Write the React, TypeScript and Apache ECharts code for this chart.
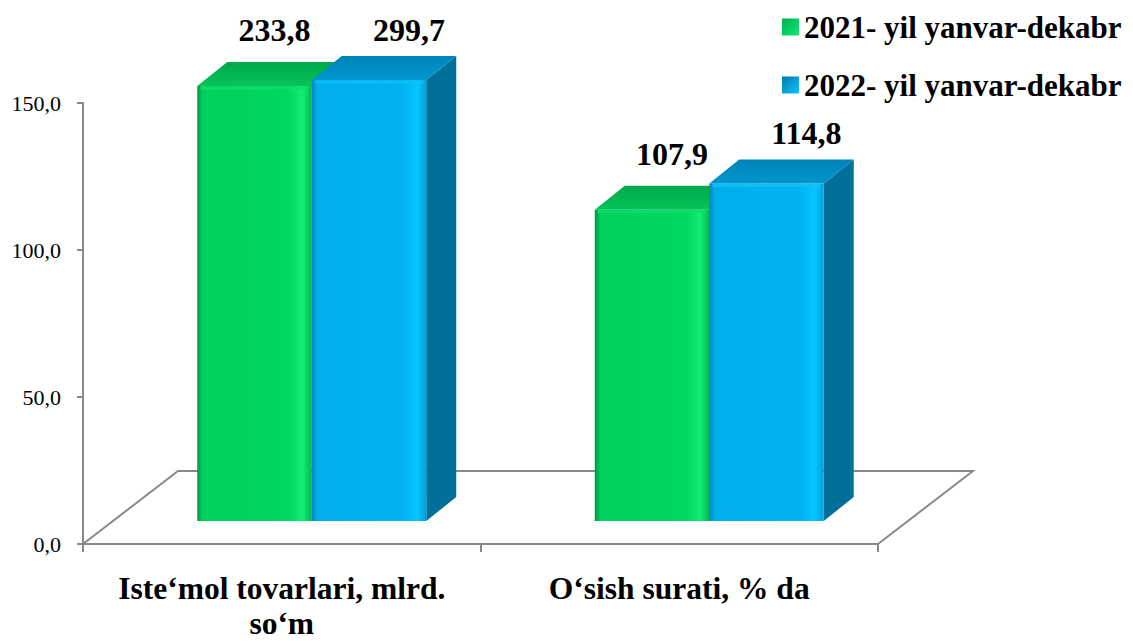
import React, { useEffect, useRef } from "react";
import * as echarts from "echarts";

const categories = ["Iste‘mol tovarlari, mlrd.\nso‘m", "O‘sish surati, % da"];
const seriesNames = ["2021- yil yanvar-dekabr", "2022- yil yanvar-dekabr"];
const values2021 = [233.8, 107.9];
const values2022 = [299.7, 114.8];
const yTicks = { min: 0, max: 150, interval: 50 };

const FONT = "Liberation Serif, Times New Roman, serif";
const AXIS_COLOR = "#898989";
const BAR_DX = 30; // front plane of bars, relative to the front of the floor
const BAR_DY = 23;
const DEPTH_DX = 30; // depth of a bar
const DEPTH_DY = 24;
const FLOOR_DX = 95;
const FLOOR_DY = 73;

const palettes = [
  {
    front: new echarts.graphic.LinearGradient(0, 0, 1, 0, [
      { offset: 0, color: "#009844" },
      { offset: 0.05, color: "#00D05C" },
      { offset: 0.8, color: "#00D860" },
      { offset: 0.92, color: "#14EC74" },
      { offset: 1, color: "#00B852" },
    ]),
    top: new echarts.graphic.LinearGradient(0, 1, 0, 0, [
      { offset: 0, color: "#06C45A" },
      { offset: 1, color: "#00A84A" },
    ]),
    side: "#008A40",
    bevel: "#0CE06A",
    labelDx: 20,
    topShift: 6,
    legend: new echarts.graphic.LinearGradient(0, 0, 1, 1, [
      { offset: 0, color: "#00B050" },
      { offset: 1, color: "#10E870" },
    ]),
  },
  {
    front: new echarts.graphic.LinearGradient(0, 0, 1, 0, [
      { offset: 0, color: "#0086BC" },
      { offset: 0.05, color: "#00AEEC" },
      { offset: 0.8, color: "#00B4F0" },
      { offset: 0.92, color: "#08C4FF" },
      { offset: 1, color: "#00A0DC" },
    ]),
    top: new echarts.graphic.LinearGradient(0, 1, 0, 0, [
      { offset: 0, color: "#0096CE" },
      { offset: 1, color: "#0084B8" },
    ]),
    side: "#00709A",
    bevel: "#10C0F8",
    labelDx: 40,
    topShift: 0,
    legend: new echarts.graphic.LinearGradient(0, 0, 1, 1, [
      { offset: 0, color: "#0078A8" },
      { offset: 1, color: "#10C4FF" },
    ]),
  },
];

const fmt = (v: number) => v.toFixed(1).replace(".", ",");

function makeBarRender(seriesIdx: number) {
  return (params: any, api: any) => {
    const cat = api.value(0);
    const v = api.value(1);
    const shown = Math.min(v, yTicks.max);
    const base = api.coord([cat, 0]);
    const top = api.coord([cat, shown]);
    const bw = api.size([1, 0])[0] * 0.288;
    const cx = base[0] + BAR_DX;
    const x0 = seriesIdx === 0 ? cx - bw : cx;
    const x1 = x0 + bw;
    const p = palettes[seriesIdx];
    const yb = base[1] - BAR_DY;
    const yTop0 = top[1] - BAR_DY;
    const yt = yTop0 + p.topShift;
    return {
      type: "group",
      children: [
        {
          type: "polygon",
          shape: {
            points: [
              [x1, yb],
              [x1 + DEPTH_DX, yb - DEPTH_DY],
              [x1 + DEPTH_DX, yt - DEPTH_DY],
              [x1, yt],
            ],
          },
          style: { fill: p.side },
        },
        {
          type: "rect",
          shape: { x: x0, y: yt, width: bw, height: yb - yt },
          style: { fill: p.front },
        },
        {
          type: "polygon",
          shape: {
            points: [
              [x0, yt],
              [x1, yt],
              [x1 + DEPTH_DX, yt - DEPTH_DY],
              [x0 + DEPTH_DX, yt - DEPTH_DY],
            ],
          },
          style: { fill: p.top },
        },
        {
          type: "line",
          shape: { x1: x0 + 3, y1: yt + 2, x2: x1 - 3, y2: yt + 2 },
          style: { stroke: p.bevel, lineWidth: 3, opacity: 0.8 },
        },
        {
          type: "text",
          style: {
            text: fmt(v),
            x: (x0 + x1) / 2 + p.labelDx,
            y: yTop0 - DEPTH_DY - 26,
            align: "center",
            verticalAlign: "middle",
            fontSize: 32,
            fontWeight: "bold",
            fontFamily: FONT,
            fill: "#000",
          },
        },
      ],
    };
  };
}

export default function App() {
  const ref = useRef<HTMLDivElement>(null);
  useEffect(() => {
    if (!ref.current) return;
    const chart = echarts.init(ref.current, undefined, { renderer: "svg" });
    chart.setOption({
      animation: false,
      backgroundColor: "#ffffff",
      grid: { left: 83, right: 255, top: 103, bottom: 96 },
      legend: {
        orient: "vertical",
        left: 777,
        top: 4,
        itemWidth: 17,
        itemHeight: 17,
        itemGap: 22,
        selectedMode: false,
        textStyle: {
          fontSize: 31,
          fontWeight: "bold",
          fontFamily: FONT,
          color: "#000",
          lineHeight: 36,
          padding: 0,
        },
        data: seriesNames.map((n, i) => ({
          name: n,
          icon: "rect",
          itemStyle: { color: palettes[i].legend },
        })),
      },
      xAxis: {
        type: "category",
        data: categories,
        axisLine: { lineStyle: { color: AXIS_COLOR, width: 2 } },
        axisTick: { show: true, length: 8, lineStyle: { color: AXIS_COLOR, width: 2 } },
        axisLabel: {
          interval: 0,
          margin: 27,
          fontSize: 31.5,
          fontWeight: "bold",
          fontFamily: FONT,
          color: "#000",
          lineHeight: 35,
        },
        splitLine: { show: false },
      },
      yAxis: {
        type: "value",
        min: yTicks.min,
        max: yTicks.max,
        interval: yTicks.interval,
        axisLine: { show: true, lineStyle: { color: AXIS_COLOR, width: 2 } },
        axisTick: { show: true, length: 6, lineStyle: { color: AXIS_COLOR, width: 2 } },
        axisLabel: {
          formatter: (v: number) => fmt(v),
          fontSize: 22,
          fontFamily: FONT,
          color: "#000",
          margin: 22,
        },
        splitLine: { show: false },
      },
      series: [
        {
          name: "floor",
          type: "custom",
          silent: true,
          data: [[0, 0]],
          renderItem: (params: any) => {
            const cs = params.coordSys;
            const yb = cs.y + cs.height;
            return {
              type: "polyline",
              shape: {
                points: [
                  [cs.x, yb],
                  [cs.x + FLOOR_DX, yb - FLOOR_DY],
                  [cs.x + cs.width + FLOOR_DX, yb - FLOOR_DY],
                  [cs.x + cs.width, yb],
                ],
              },
              style: { stroke: AXIS_COLOR, lineWidth: 2, fill: "none" },
            };
          },
        },
        {
          name: seriesNames[0],
          type: "custom",
          clip: false,
          itemStyle: { color: "#00D860" },
          data: values2021.map((v, i) => [i, v]),
          encode: { x: 0, y: 1 },
          renderItem: makeBarRender(0),
        },
        {
          name: seriesNames[1],
          type: "custom",
          clip: false,
          itemStyle: { color: "#00B0F0" },
          data: values2022.map((v, i) => [i, v]),
          encode: { x: 0, y: 1 },
          renderItem: makeBarRender(1),
        },
      ],
    });
    return () => chart.dispose();
  }, []);
  return (
    <div
      ref={ref}
      style={{ position: "fixed", left: 0, top: 0, width: 1133, height: 641, background: "#fff" }}
    />
  );
}
